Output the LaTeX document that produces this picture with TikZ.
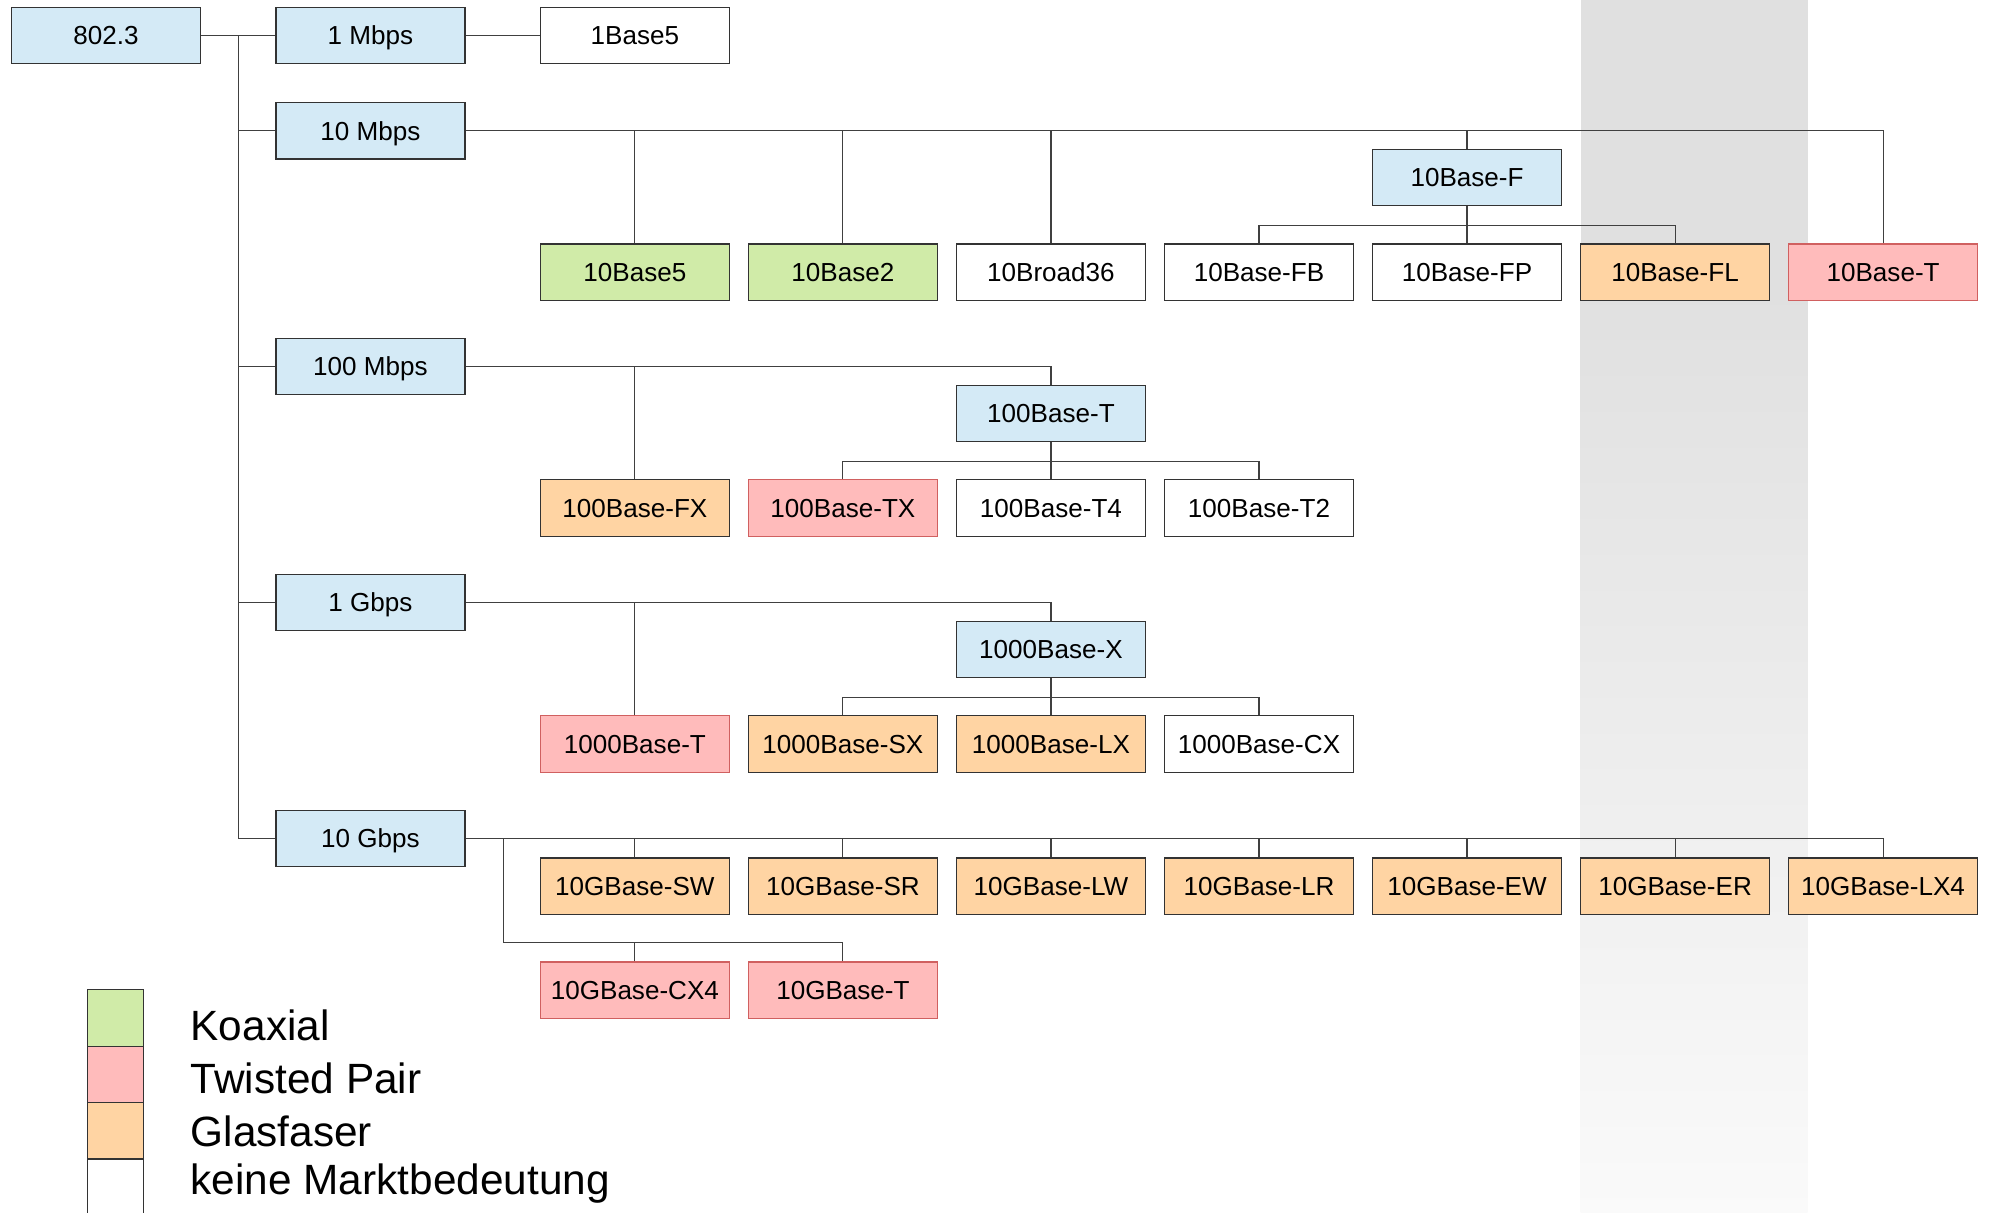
\documentclass[tikz,border=0pt]{standalone}
\usepackage{fontspec}
\setmainfont{Liberation Sans}
\usetikzlibrary{calc}

\definecolor{speedblue}{RGB}{212,234,246}
\definecolor{coaxgreen}{RGB}{208,235,168}
\definecolor{tppink}{RGB}{255,187,187}
\definecolor{tpred}{RGB}{208,96,96}
\definecolor{fiberorange}{RGB}{255,212,163}

\begin{document}
\begin{tikzpicture}[x=0.02cm, y=-0.02cm,
    box/.style={draw=black!80, line width=0.6pt, minimum width=2.98cm, minimum height=0.89cm,
                inner sep=0pt, text height=8.4pt, text depth=0pt, font=\fontsize{11.7}{14}\selectfont},
    speed/.style={box, fill=speedblue},
    coax/.style={box, fill=coaxgreen},
    twisted/.style={box, fill=tppink, draw=tpred},
    fiber/.style={box, fill=fiberorange},
    minor/.style={box, fill=white},
    link/.style={draw=black!75, line width=0.5pt},
    legsw/.style={draw=black!80, line width=0.6pt, minimum width=0.88cm, minimum height=0.89cm, inner sep=0pt},
    legtext/.style={anchor=west, inner sep=0pt, font=\fontsize{19}{22}\selectfont}]

    \useasboundingbox (0,0) rectangle (1568,955.5);

    % grey band behind column 7
    \fill[black!12] (1246,0) rectangle (1425,237);
    \shade[top color=black!12, bottom color=black!2] (1246,237) rectangle (1425,955.5);

    % 802.3 and 1 Mbps
    \node[speed] (root) at (83.5,28) {802.3};
    \node[speed] (m1) at (292,28) {1 Mbps};
    \node[minor] (b1base5) at (500.5,28) {1Base5};
    \coordinate (trunk) at (188,28);

    % 10 Mbps
    \node[speed] (m10) at (292,103) {10 Mbps};
    \node[speed] (b10F) at (1156.5,140) {10Base-F};
    \node[coax] (b10base5) at (500.5,214.5) {10Base5};
    \node[coax] (b10base2) at (664.5,214.5) {10Base2};
    \node[minor] (b10broad36) at (828.5,214.5) {10Broad36};
    \node[minor] (b10FB) at (992.5,214.5) {10Base-FB};
    \node[minor] (b10FP) at (1156.5,214.5) {10Base-FP};
    \node[fiber] (b10FL) at (1320.5,214.5) {10Base-FL};
    \node[twisted] (b10T) at (1484.5,214.5) {10Base-T};

    % 100 Mbps
    \node[speed] (m100) at (292,289) {100 Mbps};
    \node[speed] (b100T) at (828.5,326) {100Base-T};
    \node[fiber] (b100FX) at (500.5,400.5) {100Base-FX};
    \node[twisted] (b100TX) at (664.5,400.5) {100Base-TX};
    \node[minor] (b100T4) at (828.5,400.5) {100Base-T4};
    \node[minor] (b100T2) at (992.5,400.5) {100Base-T2};

    % 1 Gbps
    \node[speed] (g1) at (292,475) {1 Gbps};
    \node[speed] (b1000X) at (828.5,512) {1000Base-X};
    \node[twisted] (b1000T) at (500.5,586.5) {1000Base-T};
    \node[fiber] (b1000SX) at (664.5,586.5) {1000Base-SX};
    \node[fiber] (b1000LX) at (828.5,586.5) {1000Base-LX};
    \node[minor] (b1000CX) at (992.5,586.5) {1000Base-CX};

    % 10 Gbps
    \node[speed] (g10) at (292,661) {10 Gbps};
    \node[fiber] (gSW) at (500.5,698.5) {10GBase-SW};
    \node[fiber] (gSR) at (664.5,698.5) {10GBase-SR};
    \node[fiber] (gLW) at (828.5,698.5) {10GBase-LW};
    \node[fiber] (gLR) at (992.5,698.5) {10GBase-LR};
    \node[fiber] (gEW) at (1156.5,698.5) {10GBase-EW};
    \node[fiber] (gER) at (1320.5,698.5) {10GBase-ER};
    \node[fiber] (gLX4) at (1484.5,698.5) {10GBase-LX4};
    \node[twisted] (gCX4) at (500.5,780.5) {10GBase-CX4};
    \node[twisted] (gT) at (664.5,780.5) {10GBase-T};
    \coordinate (gsplit) at (397,661);

    % connectors
    \draw[link] (root.east) -- (m1.west);
    \draw[link] (m1.east) -- (b1base5.west);
    \foreach \n in {m10, m100, g1, g10}
        \draw[link] (trunk) |- (\n.west);

    \draw[link] (m10.east) -| (b10T.north);
    \foreach \n in {b10base5, b10base2, b10broad36, b10F}
        \draw[link] (\n.north) -- (\n.north |- m10.east);
    \foreach \n in {b10FB, b10FP, b10FL}
        \draw[link] (b10F.south) -- ++(0,15) -| (\n.north);

    \draw[link] (m100.east) -| (b100T.north);
    \draw[link] (b100FX.north) -- (b100FX.north |- m100.east);
    \foreach \n in {b100TX, b100T4, b100T2}
        \draw[link] (b100T.south) -- ++(0,15) -| (\n.north);

    \draw[link] (g1.east) -| (b1000X.north);
    \draw[link] (b1000T.north) -- (b1000T.north |- g1.east);
    \foreach \n in {b1000SX, b1000LX, b1000CX}
        \draw[link] (b1000X.south) -- ++(0,15) -| (\n.north);

    \draw[link] (g10.east) -| (gLX4.north);
    \foreach \n in {gSW, gSR, gLW, gLR, gEW, gER}
        \draw[link] (\n.north) -- (\n.north |- g10.east);
    \draw[link] (gT.north) -- ++(0,-15) -| (gsplit);
    \draw[link] (gCX4.north) -- ++(0,-15);

    % legend
    \node[legsw, fill=coaxgreen] (lkoax) at (91,802.5) {};
    \node[legsw, fill=tppink] (ltp) at (91,847) {};
    \node[legsw, fill=fiberorange] (lfiber) at (91,891.5) {};
    \node[legsw, fill=white, minimum height=1cm] (lminor) at (91,939) {};
    \node[legtext] at (150,808) {Koaxial};
    \node[legtext] at (150,850) {Twisted Pair};
    \node[legtext] at (150,892) {Glasfaser};
    \node[legtext] at (150,933) {keine Marktbedeutung};
\end{tikzpicture}
\end{document}
